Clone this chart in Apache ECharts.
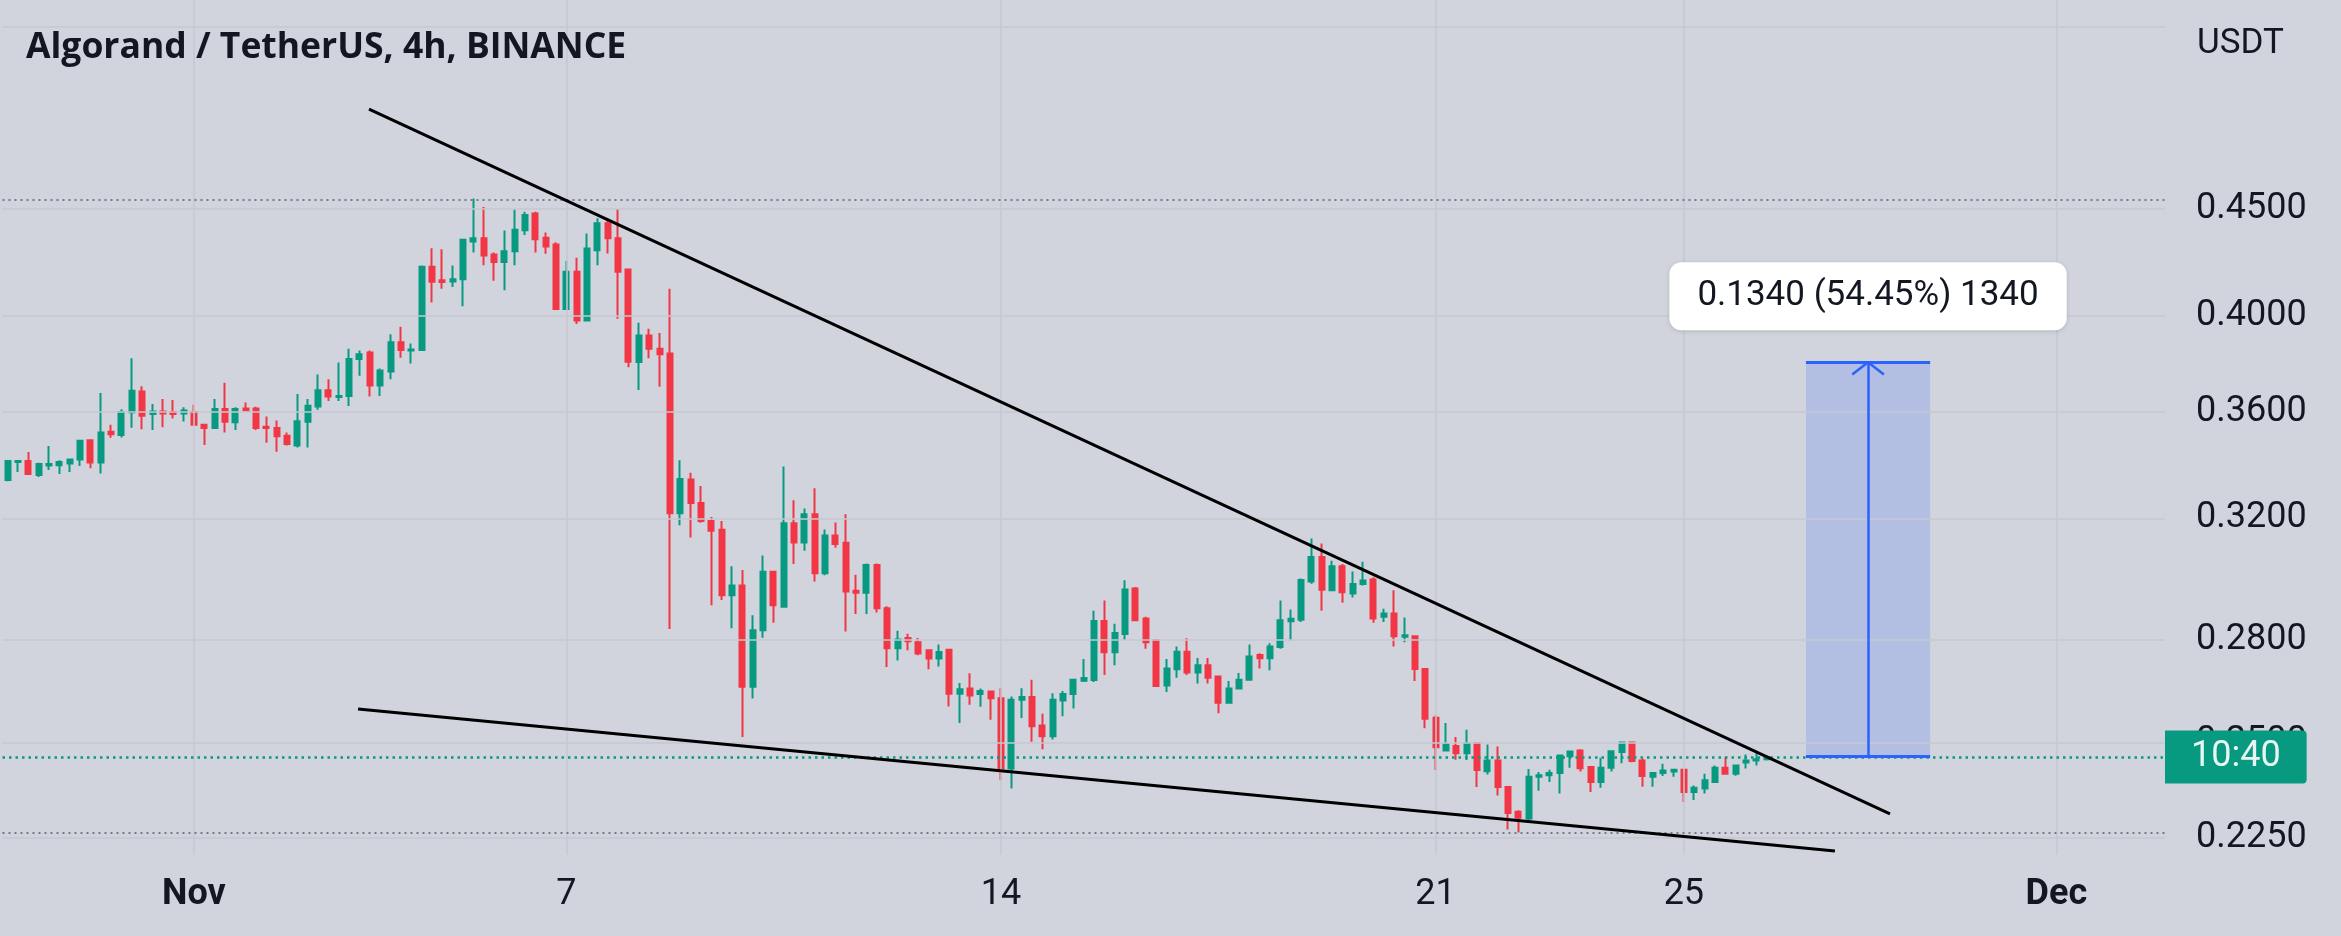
<!DOCTYPE html>
<html>
<head>
<meta charset="utf-8">
<script src="https://cdn.jsdelivr.net/npm/echarts@6/dist/echarts.min.js"></script>
<style>
html,body{margin:0;padding:0;background:#d1d4dc;}
#main{width:2341px;height:936px;}
</style>
</head>
<body>
<div id="main"></div>
<script>
// ---- time slots (4h bars, starting Oct 29 2022 00:00 UTC) ----
const startTime = Date.UTC(2022, 9, 29, 0, 0);
const barHours = 4;
const slotCount = 209;

// ---- OHLC values, one per 4h bar ----
const opens = [
0.3338,0.3405,0.3409,0.3357,0.3392,0.3393,0.3400,0.3415,0.3488,0.3403,
0.3521,0.3508,0.3597,0.3680,0.3590,0.3600,0.3598,0.3592,0.3598,0.3548,
0.3535,0.3610,0.3558,0.3612,0.3612,0.3540,0.3535,0.3505,0.3468,0.3560,
0.3620,0.3685,0.3658,0.3662,0.3814,0.3842,0.3705,0.3762,0.3886,0.3850,
0.3852,0.4223,0.4160,0.4155,0.4165,0.4342,0.4357,0.4280,0.4245,0.4295,
0.4396,0.4478,0.4360,0.4327,0.4030,0.4200,0.3980,0.4300,0.4430,0.4357,
0.4210,0.3802,0.3915,0.3858,0.3838,0.3218,0.3340,0.3255,0.3191,0.3160,
0.2940,0.2972,0.2658,0.2829,0.3017,0.2903,0.3183,0.3116,0.3215,0.3012,
0.3140,0.3115,0.2955,0.2948,0.3040,0.2898,0.2773,0.2805,0.2792,0.2767,
0.2742,0.2769,0.2638,0.2653,0.2637,0.2644,0.2625,0.2429,0.2620,0.2628,
0.2547,0.2517,0.2618,0.2637,0.2676,0.2678,0.2858,0.2761,0.2817,0.2962,
0.2866,0.2798,0.2662,0.2710,0.2763,0.2700,0.2722,0.2688,0.2612,0.2653,
0.2679,0.2753,0.2743,0.2777,0.2857,0.2862,0.2985,0.3067,0.2956,0.3036,
0.2946,0.2977,0.2992,0.2871,0.2882,0.2809,0.2810,0.2711,0.2569,0.2478,
0.2490,0.2470,0.2498,0.2422,0.2451,0.2380,0.2316,0.2299,0.2407,0.2411,
0.2417,0.2462,0.2478,0.2433,0.2393,0.2431,0.2474,0.2500,0.2451,0.2407,
0.2417,0.2421,0.2426,0.2367,0.2376,0.2393,0.2431,0.2415,0.2445,0.2451,
0.2454
];
const closes = [
0.3409,0.3409,0.3360,0.3398,0.3398,0.3405,0.3415,0.3486,0.3403,0.3518,
0.3511,0.3598,0.3683,0.3583,0.3600,0.3592,0.3590,0.3604,0.3548,0.3535,
0.3610,0.3560,0.3610,0.3604,0.3535,0.3535,0.3503,0.3473,0.3562,0.3623,
0.3685,0.3660,0.3662,0.3814,0.3834,0.3705,0.3766,0.3886,0.3852,0.3855,
0.4223,0.4153,0.4152,0.4165,0.4350,0.4357,0.4275,0.4245,0.4295,0.4398,
0.4470,0.4352,0.4318,0.4030,0.4200,0.3980,0.4308,0.4430,0.4357,0.4200,
0.3803,0.3915,0.3858,0.3835,0.3218,0.3342,0.3255,0.3191,0.3157,0.2940,
0.2972,0.2658,0.2829,0.3017,0.2908,0.3183,0.3116,0.3215,0.3012,0.3140,
0.3111,0.2952,0.2948,0.3040,0.2898,0.2773,0.2800,0.2795,0.2757,0.2742,
0.2762,0.2638,0.2651,0.2633,0.2646,0.2625,0.2429,0.2620,0.2628,0.2545,
0.2517,0.2620,0.2637,0.2679,0.2684,0.2858,0.2761,0.2820,0.2959,0.2860,
0.2792,0.2660,0.2712,0.2763,0.2700,0.2722,0.2685,0.2612,0.2653,0.2679,
0.2748,0.2743,0.2779,0.2860,0.2865,0.2990,0.3067,0.2958,0.3036,0.2950,
0.2977,0.2988,0.2866,0.2882,0.2810,0.2813,0.2711,0.2566,0.2487,0.2495,
0.2470,0.2497,0.2425,0.2451,0.2380,0.2313,0.2301,0.2407,0.2411,0.2417,
0.2464,0.2475,0.2430,0.2393,0.2431,0.2476,0.2500,0.2449,0.2409,0.2417,
0.2424,0.2426,0.2367,0.2378,0.2398,0.2431,0.2415,0.2437,0.2451,0.2454,
0.2460
];
const lows = [
0.3334,0.3368,0.3358,0.3349,0.3375,0.3360,0.3368,0.3390,0.3382,0.3362,
0.3497,0.3498,0.3536,0.3530,0.3527,0.3538,0.3572,0.3561,0.3546,0.3470,
0.3535,0.3518,0.3527,0.3600,0.3527,0.3478,0.3444,0.3468,0.3460,0.3460,
0.3607,0.3642,0.3642,0.3622,0.3745,0.3660,0.3662,0.3730,0.3820,0.3796,
0.3850,0.4060,0.4122,0.4130,0.4043,0.4290,0.4230,0.4158,0.4115,0.4230,
0.4373,0.4290,0.4283,0.4027,0.4027,0.3965,0.3980,0.4230,0.4285,0.3988,
0.3780,0.3686,0.3818,0.3700,0.2833,0.3176,0.3133,0.3185,0.2908,0.2925,
0.2835,0.2515,0.2624,0.2806,0.2852,0.2900,0.3043,0.3088,0.2985,0.3006,
0.3098,0.2825,0.2880,0.2880,0.2885,0.2717,0.2736,0.2767,0.2752,0.2710,
0.2718,0.2601,0.2554,0.2606,0.2600,0.2563,0.2398,0.2376,0.2568,0.2502,
0.2481,0.2508,0.2573,0.2595,0.2672,0.2672,0.2693,0.2722,0.2799,0.2858,
0.2772,0.2658,0.2643,0.2685,0.2693,0.2668,0.2668,0.2582,0.2610,0.2651,
0.2677,0.2712,0.2707,0.2772,0.2797,0.2855,0.2978,0.2890,0.2953,0.2916,
0.2933,0.2972,0.2852,0.2855,0.2779,0.2792,0.2675,0.2539,0.2425,0.2475,
0.2453,0.2452,0.2380,0.2413,0.2358,0.2271,0.2264,0.2295,0.2370,0.2393,
0.2363,0.2431,0.2421,0.2367,0.2378,0.2421,0.2443,0.2446,0.2381,0.2381,
0.2409,0.2407,0.2341,0.2346,0.2363,0.2391,0.2413,0.2410,0.2429,0.2437,
0.2451
];
const highs = [
0.3413,0.3413,0.3443,0.3402,0.3466,0.3412,0.3417,0.3488,0.3490,0.3674,
0.3548,0.3609,0.3818,0.3702,0.3630,0.3650,0.3646,0.3617,0.3627,0.3552,
0.3650,0.3716,0.3617,0.3636,0.3619,0.3580,0.3565,0.3518,0.3670,0.3650,
0.3750,0.3730,0.3800,0.3858,0.3850,0.3850,0.3775,0.3920,0.3953,0.3880,
0.4228,0.4310,0.4305,0.4228,0.4350,0.4553,0.4510,0.4290,0.4395,0.4498,
0.4487,0.4487,0.4385,0.4338,0.4250,0.4265,0.4380,0.4455,0.4455,0.4500,
0.4212,0.3970,0.3944,0.3925,0.4122,0.3412,0.3365,0.3316,0.3205,0.3191,
0.3036,0.3023,0.2876,0.3072,0.3017,0.3388,0.3265,0.3235,0.3308,0.3161,
0.3186,0.3215,0.3007,0.3045,0.3045,0.2905,0.2827,0.2818,0.2805,0.2769,
0.2785,0.2772,0.2669,0.2698,0.2653,0.2644,0.2654,0.2630,0.2654,0.2679,
0.2580,0.2639,0.2646,0.2682,0.2741,0.2890,0.2923,0.2849,0.2989,0.2967,
0.2871,0.2800,0.2741,0.2779,0.2804,0.2744,0.2744,0.2691,0.2675,0.2699,
0.2785,0.2758,0.2789,0.2923,0.2894,0.2995,0.3130,0.3113,0.3054,0.3043,
0.3018,0.3051,0.2999,0.2897,0.2956,0.2869,0.2813,0.2713,0.2575,0.2554,
0.2515,0.2535,0.2500,0.2494,0.2489,0.2381,0.2320,0.2428,0.2420,0.2426,
0.2467,0.2478,0.2481,0.2435,0.2458,0.2478,0.2502,0.2502,0.2456,0.2420,
0.2442,0.2428,0.2428,0.2384,0.2415,0.2437,0.2461,0.2439,0.2467,0.2470,
0.2464
];

// ---- axis ticks ----
const xTickDates  = ['2022-11-01 00:00','2022-11-07 00:00','2022-11-14 00:00','2022-11-21 00:00','2022-11-25 00:00','2022-12-01 00:00'];
const xTickLabels = ['Nov','7','14','21','25','Dec'];
const xTickBold   = [true,false,false,false,false,true];
const yTickValues = [0.45,0.40,0.36,0.32,0.28,0.25,0.225];
const yTickLabels = ['0.4500','0.4000','0.3600','0.3200','0.2800','0.2500','0.2250'];
const yGridOnly   = [0.55];
const yRange      = [0.22083, 0.56656];

// ---- drawings ----
const rangeLines   = [0.4548, 0.2262];           // dotted high / low levels
const lastPrice    = 0.2460;
const countdownTxt = '10:40';
const upperTrend   = [[34.92,0.50242],[181.92,0.23104]];
const lowerTrend   = [[33.86,0.25938],[176.6,0.22181]];
const measureX     = [173.8, 179.8, 185.8];      // left, arrow, right (bar slots)
const measureY     = [0.2461, 0.3801];           // from, to
const arrowHead    = [[178.27,0.3750],[179.8,0.3801],[181.33,0.3750]];
const measureText  = '0.1340 (54.45%) 1340';
const titleText    = 'Algorand / TetherUS, 4h, BINANCE';
const currencyText = 'USDT';

// ---- build ----
function fmt(t){
  const d = new Date(t), p = n => String(n).padStart(2,'0');
  return d.getUTCFullYear()+'-'+p(d.getUTCMonth()+1)+'-'+p(d.getUTCDate())+' '+p(d.getUTCHours())+':'+p(d.getUTCMinutes());
}
const categories = Array.from({length: slotCount}, (_, i) => fmt(startTime + i*barHours*3600e3));
const candles = opens.map((o,i) => [o, closes[i], lows[i], highs[i]]);
const xLo = -0.5, xHi = slotCount - 0.5;

const UP = '#089981', DOWN = '#f23645', TXT = '#131722', GRID = '#c5c8d0', BLUE = '#2962ff';
const FONT = 'Roboto';

// full-width horizontal line through a price, built on the value x axis
function hLine(v, lineStyle, label) {
  return [{coord: [xLo, v]}, {coord: [xHi, v], lineStyle: lineStyle, label: label || {show: false}}];
}

const gridLines = [];
yTickValues.forEach((v,k) => gridLines.push(hLine(v, {color: GRID, width: 1.5, type: 'solid'}, {
  show: true, position: 'end', distance: 31, formatter: yTickLabels[k],
  fontSize: 36, fontFamily: FONT, color: TXT
})));
yGridOnly.forEach(v => gridLines.push(hLine(v, {color: GRID, width: 1.5, type: 'solid'})));
xTickDates.forEach(d => gridLines.push({xAxis: categories.indexOf(d), label: {show: false},
  lineStyle: {color: GRID, width: 1.5, type: 'solid'}}));

const priceLines = [
  hLine(rangeLines[0], {color: '#787b86', width: 2, type: [2,4]}),
  hLine(rangeLines[1], {color: '#787b86', width: 2, type: [2,4]}),
  hLine(lastPrice, {color: UP, width: 2.5, type: [2.5,4]}, {
    show: true, position: 'end', distance: 0, formatter: countdownTxt,
    fontSize: 36, fontFamily: FONT, color: '#e8f6f2', backgroundColor: UP,
    padding: [9, 26, 8, 26], borderRadius: [0, 4, 4, 0]
  })
];

const chart = echarts.init(document.getElementById('main'), null, {renderer: 'canvas'});
chart.setOption({
  animation: false,
  backgroundColor: '#d1d4dc',
  grid: {left: 2.5, right: 176, top: 0, bottom: 81},
  xAxis: [{
    type: 'category', data: categories, boundaryGap: true,
    axisLine: {show: false}, axisTick: {show: false}, splitLine: {show: false},
    axisLabel: {
      interval: (idx, val) => xTickDates.indexOf(val) >= 0,
      formatter: val => { const k = xTickDates.indexOf(val); return xTickBold[k] ? '{b|'+xTickLabels[k]+'}' : xTickLabels[k]; },
      fontSize: 36, fontFamily: FONT, color: TXT, margin: 22,
      rich: {b: {fontSize: 36, fontFamily: FONT, color: TXT, fontWeight: 'bold'}}
    }
  }, {
    type: 'value', min: xLo, max: xHi, show: false
  }],
  yAxis: [{type: 'log', min: yRange[0], max: yRange[1], show: false}],
  graphic: [
    {type: 'text', left: 26, top: 30, z: 100,
     style: {text: titleText, fontSize: 35.5, fontWeight: 'bold', fontFamily: '"Open Sans"', fill: TXT}},
    {type: 'text', left: 2197, top: 27, z: 100,
     style: {text: currencyText, fontSize: 35, fontFamily: FONT, fill: TXT}}
  ],
  series: [
    { // grid lines + price axis labels
      type: 'line', xAxisIndex: 1, data: [], z: 1, silent: true,
      markLine: {silent: true, symbol: 'none', animation: false, data: gridLines}
    },
    {
      type: 'candlestick', xAxisIndex: 0, data: candles, z: 3, barWidth: 5.5,
      itemStyle: {color: UP, color0: DOWN, borderColor: UP, borderColor0: DOWN, borderWidth: 2}
    },
    { // dotted levels + last price line with countdown box
      type: 'line', xAxisIndex: 1, data: [], z: 4, silent: true,
      markLine: {silent: true, symbol: 'none', animation: false, data: priceLines}
    },
    {type: 'line', xAxisIndex: 1, data: upperTrend, z: 5, silent: true, symbol: 'none',
     lineStyle: {color: '#000', width: 3}},
    {type: 'line', xAxisIndex: 1, data: lowerTrend, z: 5, silent: true, symbol: 'none',
     lineStyle: {color: '#000', width: 3}},
    { // measurement tool
      type: 'line', xAxisIndex: 1, data: arrowHead, z: 6, silent: true, symbol: 'none',
      lineStyle: {color: BLUE, width: 2.5},
      markArea: {silent: true, itemStyle: {color: 'rgba(41,98,255,0.18)'},
        data: [[{coord: [measureX[0], measureY[0]]}, {coord: [measureX[2], measureY[1]]}]]},
      markLine: {silent: true, symbol: 'none', animation: false,
        lineStyle: {color: BLUE, width: 3, type: 'solid'},
        data: [
          [{coord: [measureX[0], measureY[1]]}, {coord: [measureX[2], measureY[1]],
            label: {show: true, position: 'insideMiddleTop', distance: 32, formatter: measureText,
                    fontSize: 35, fontFamily: FONT, color: TXT, backgroundColor: '#ffffff',
                    lineHeight: 38, padding: [15, 28], borderRadius: 12,
                    shadowBlur: 4, shadowOffsetY: 1, shadowColor: 'rgba(0,0,0,0.15)'}}],
          [{coord: [measureX[0], measureY[0]]}, {coord: [measureX[2], measureY[0]], label: {show: false}}],
          [{coord: [measureX[1], measureY[0]]}, {coord: [measureX[1], measureY[1]], label: {show: false},
            lineStyle: {width: 2.5}}]
        ]}
    }
  ]
});
</script>
</body>
</html>
